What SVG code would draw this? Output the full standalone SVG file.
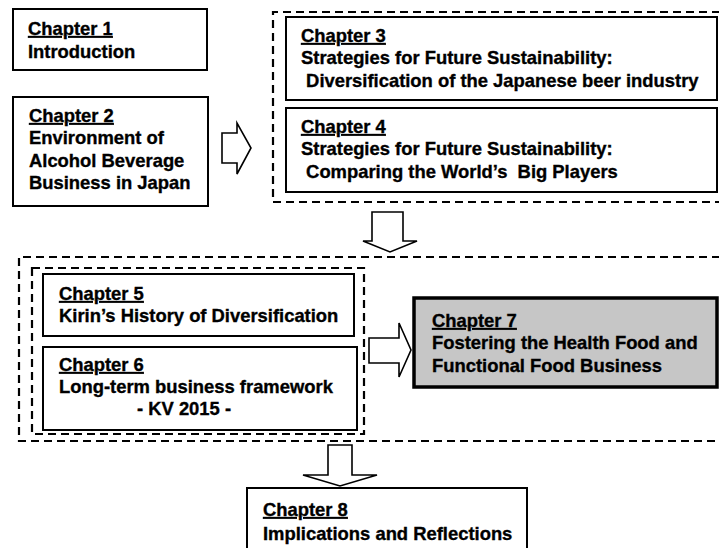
<svg xmlns="http://www.w3.org/2000/svg" width="719" height="548" viewBox="0 0 719 548">
<style>
.box{fill:#fff;stroke:#000;stroke-width:2}
.hl{fill:#c6c6c6;stroke:#000;stroke-width:3.5}
.dash{fill:none;stroke:#000;stroke-width:2.2;stroke-dasharray:8 5}
.arr{fill:#fff;stroke:#000;stroke-width:1.6;stroke-linejoin:miter}
text{font-family:"Liberation Sans",Arial,sans-serif;font-weight:bold;font-size:18.4px;fill:#000;stroke:#000;stroke-width:0.35}
.u{text-decoration:underline}
</style>
<rect width="719" height="548" fill="#fff"/>
<g id="groups">
<path class="dash" d="M720 12 H273 V202 H720"/>
<path class="dash" d="M720 257 H19 V441 H720"/>
<rect class="dash" x="32" y="268" width="332" height="166"/>
</g>
<g id="ch1"><rect class="box" x="13" y="9" width="194" height="61"/>
<text x="28" y="35" class="u">Chapter 1</text><text x="28" y="58">Introduction</text></g>
<g id="ch2"><rect class="box" x="13" y="97" width="195" height="109"/>
<text x="29" y="122" class="u">Chapter 2</text><text x="29" y="144">Environment of</text><text x="29" y="167">Alcohol Beverage</text><text x="29" y="189">Business in Japan</text></g>
<g id="ch3"><rect class="box" x="286" y="17" width="431" height="83"/>
<text x="301" y="42" class="u">Chapter 3</text><text x="301" y="64">Strategies for Future Sustainability:</text><text x="301" y="87" xml:space="preserve"> Diversification of the Japanese beer industry</text></g>
<g id="ch4"><rect class="box" x="286" y="108" width="431" height="84"/>
<text x="301" y="133" class="u">Chapter 4</text><text x="301" y="155">Strategies for Future Sustainability:</text><text x="301" y="178" xml:space="preserve"> Comparing the World’s  Big Players</text></g>
<g id="ch5"><rect class="box" x="43" y="274" width="311" height="62"/>
<text x="59" y="300" class="u">Chapter 5</text><text x="59" y="322">Kirin’s History of Diversification</text></g>
<g id="ch6"><rect class="box" x="43" y="347" width="314" height="83"/>
<text x="59" y="371" class="u">Chapter 6</text><text x="59" y="393">Long-term business framework</text><text x="137" y="415">- KV 2015 -</text></g>
<g id="ch7"><rect class="hl" x="414" y="298" width="303" height="89"/>
<text x="432" y="327" class="u">Chapter 7</text><text x="432" y="349">Fostering the Health Food and</text><text x="432" y="372">Functional Food Business</text></g>
<g id="ch8"><rect class="box" x="247" y="488" width="280" height="70"/>
<text x="263" y="516" class="u">Chapter 8</text><text x="263" y="540">Implications and Reflections</text></g>
<g id="connectors">
<path class="arr" d="M222 133 H237 V123 L251 148 L237 174 V163 H222 Z"/>
<path class="arr" d="M372 212 H403 V241 H417 L390 252 L363 241 H372 Z"/>
<path class="arr" d="M369 338 H399 V323 L411 350 L399 377 V363 H369 Z"/>
<path class="arr" d="M328 445 H352 V475 H377 L340 486 L303 475 H328 Z"/>
</g>
</svg>
